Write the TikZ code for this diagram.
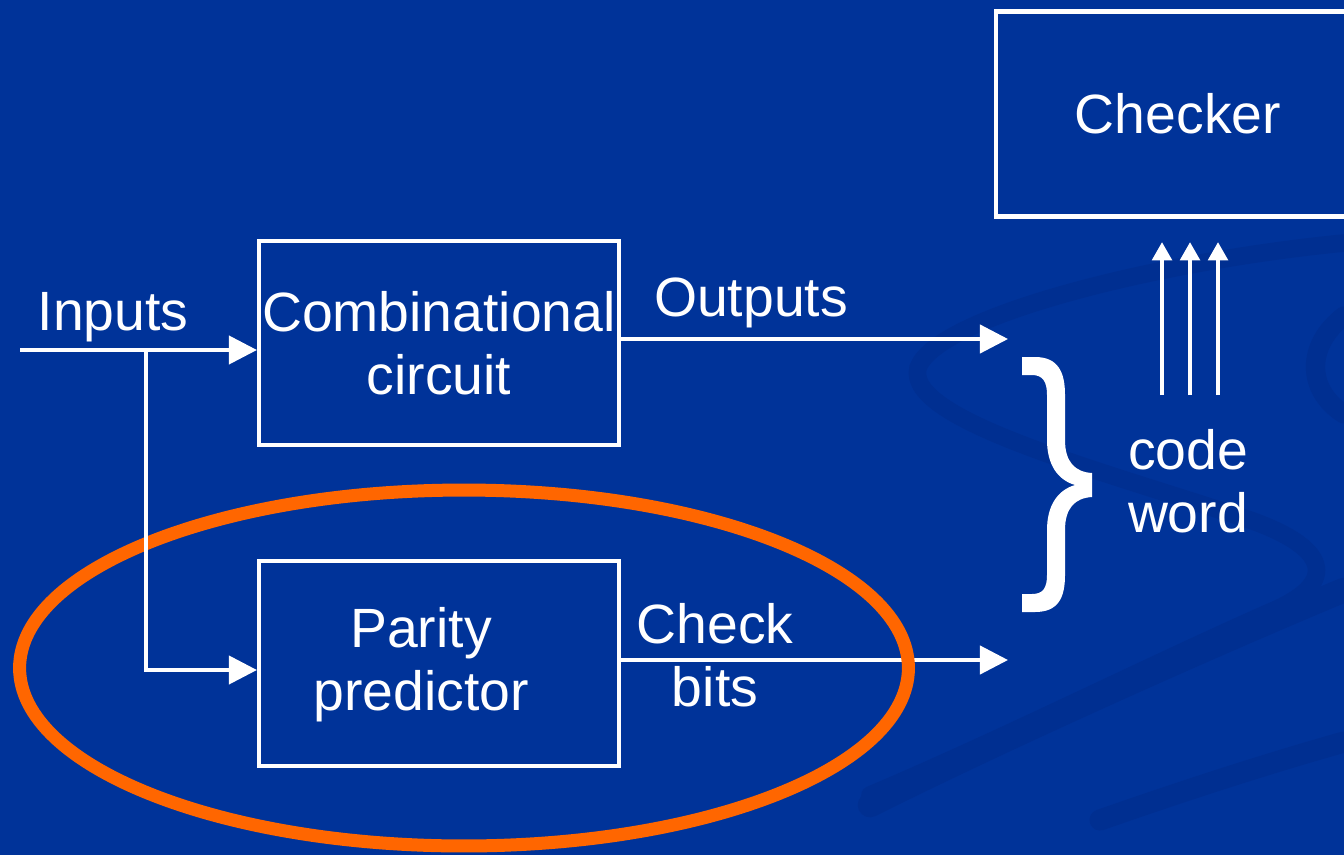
\documentclass[tikz,border=0pt]{standalone}
\usepackage{fontspec}
\setmainfont{Liberation Sans}
\usetikzlibrary{arrows.meta}
\definecolor{bgblue}{RGB}{0,51,153}
\definecolor{swoosh}{RGB}{0,47,145}
\definecolor{ringorange}{RGB}{255,102,0}
\begin{document}
\begin{tikzpicture}[x=0.02cm,y=-0.02cm,
  txt/.style={text=white,font=\fontsize{31.5}{36}\selectfont,align=center,inner sep=0pt},
  blockbox/.style={draw=white,line width=2.4pt,inner sep=0pt,txt},
  wire/.style={draw=white,line width=2.3pt},
  arr/.style={wire,-{Triangle[length=16pt,width=16pt]}},
  uparr/.style={draw=white,line width=2.8pt,-{Triangle[length=10.5pt,width=11pt]}},
  swirl/.style={draw=swoosh,line cap=round}]
\useasboundingbox (0,0) rectangle (1344,855);
\begin{scope}
\clip (0,0) rectangle (1344,855);
\fill[bgblue] (0,0) rectangle (1344,855);
% background swooshes
\draw[swirl,line width=10pt] (1344,243) .. controls (1150,262) and (935,318) .. (918,368)
   .. controls (905,420) and (1100,470) .. (1250,520)
   .. controls (1335,550) and (1335,585) .. (1270,612)
   .. controls (1150,665) and (1000,740) .. (870,795);
\draw[swirl,line width=14pt] (870,805) .. controls (1000,740) and (1200,650) .. (1344,590);
\draw[swirl,line width=12pt] (1100,820) .. controls (1200,785) and (1280,760) .. (1344,742);
\draw[swirl,line width=11pt] (1344,316) .. controls (1306,345) and (1306,390) .. (1344,414);
\end{scope}
% blocks
\node[blockbox, minimum width=7.2cm, minimum height=4.08cm] (comb) at (439,343) {Combinational\\circuit};
\node[blockbox, minimum width=7.2cm, minimum height=4.1cm] (par) at (439,663.5) {};
\node[txt] (partxt) at (421,664.5) {Parity\\predictor};
\begin{scope}
\clip (0,0) rectangle (1344,855);
\node[blockbox, minimum width=7.27cm, minimum height=4.1cm] (chk) at (1178,114) {Checker};
\end{scope}
% labels
\node[txt,anchor=base] (inputs) at (113,330) {Inputs};
\node[txt,anchor=base] (outl) at (751,316) {Outputs};
\node[txt] (chkbits) at (715,655) {Check\\bits};
\node[txt] (cw) at (1188,481) {code\\word};
% coordinates
\coordinate (oend) at (1008,339);
\coordinate (cend) at (1008,660);
\coordinate (inp) at (20,350);
\coordinate (br) at (146,350);
\coordinate (brlow) at (146,670);
\coordinate (u1b) at (1162,395); \coordinate (u1t) at (1162,242);
\coordinate (u2b) at (1190,395); \coordinate (u2t) at (1190,242);
\coordinate (u3b) at (1218,395); \coordinate (u3t) at (1218,242);
% connectors
\draw[arr] (comb.east |- oend) -- (oend);
\draw[arr] (par.east |- cend) -- (cend);
% orange ring
\draw[ringorange,line width=7.4pt] (464,668) ellipse [x radius=8.89cm, y radius=3.56cm];
% inputs
\draw[arr] (inp) -- (comb.west |- inp);
\draw[arr] (br) -- (brlow) -- (par.west |- brlow);
% up arrows to checker
\draw[uparr] (u1b) -- (u1t);
\draw[uparr] (u2b) -- (u2t);
\draw[uparr] (u3b) -- (u3t);
% brace
\fill[white] (1022,357) -- (1035,357) .. controls (1058,357) and (1065,372) .. (1065,395)
  -- (1065,440) .. controls (1065,462) and (1075,472) .. (1092,473)
  -- (1092,497) .. controls (1075,498) and (1065,508) .. (1065,530)
  -- (1065,575) .. controls (1065,598) and (1058,612) .. (1035,612)
  -- (1022,612) -- (1022,594) -- (1032,594) .. controls (1043,594) and (1047,588) .. (1047,575)
  -- (1047,530) .. controls (1047,505) and (1058,490) .. (1075,485)
  .. controls (1058,480) and (1047,465) .. (1047,440)
  -- (1047,395) .. controls (1047,382) and (1043,375) .. (1032,375) -- (1022,375) -- cycle;
\end{tikzpicture}
\end{document}
